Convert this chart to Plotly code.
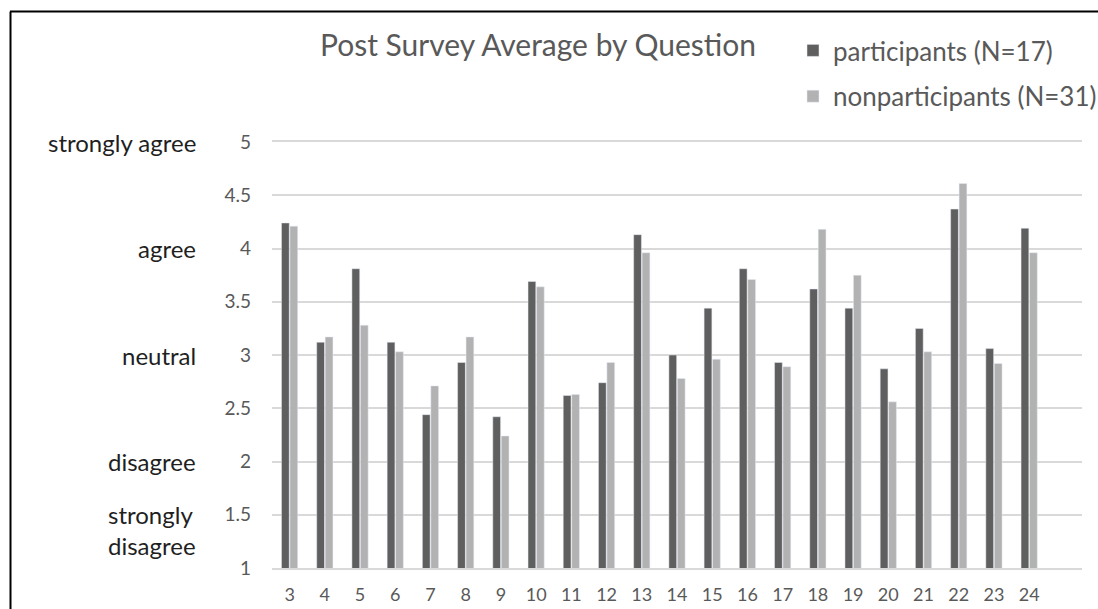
import plotly.graph_objects as go

# Survey question numbers shown along the x axis
questions = [str(q) for q in range(3, 25)]

# Average post-survey response per question (1 = strongly disagree, 5 = strongly agree)
participants = [4.24, 3.12, 3.81, 3.12, 2.44, 2.93, 2.42, 3.69, 2.62, 2.74, 4.13,
                3.00, 3.44, 3.81, 2.93, 3.62, 3.44, 2.87, 3.25, 4.37, 3.06, 4.19]
nonparticipants = [4.21, 3.17, 3.28, 3.03, 2.71, 3.17, 2.24, 3.64, 2.63, 2.93, 3.96,
                   2.78, 2.96, 3.71, 2.89, 4.18, 3.75, 2.56, 3.03, 4.61, 2.92, 3.96]

# Likert scale wording placed to the left of the numeric axis
scale_labels = ["strongly agree", "agree", "neutral", "disagree", "strongly<br>disagree"]
scale_positions = [5, 4, 3, 2, 1.36]

W, H = 1098, 609
L, R, T, B = 272, 16, 142, 41
PW, PH = W - L - R, H - T - B


def px_x(p):
    return (p - L) / PW


def px_y(p):
    return (H - B - p) / PH


FONT = "Lato"
GREY_TEXT = "#595959"
GRID = "#d9d9d9"

fig = go.Figure()
fig.add_trace(go.Bar(x=questions, y=participants, name="participants (N=17)",
                     marker_color="#5f5f5f", legendgroup="a"))
fig.add_trace(go.Bar(x=questions, y=nonparticipants, name="nonparticipants (N=31)",
                     marker_color="#b2b2b2", legendgroup="b"))

annotations = [
    dict(text=t, x=px_x(198), y=v, xref="paper", yref="y", xanchor="right",
         yanchor="middle", showarrow=False, align="left",
         font=dict(family=FONT, size=24, color="#1f1f1f"))
    for t, v in zip(scale_labels, scale_positions)
]

shapes = [
    dict(type="line", xref="paper", yref="paper", x0=px_x(10), x1=px_x(1098),
         y0=px_y(11.5), y1=px_y(11.5), line=dict(color="black", width=2)),
    dict(type="line", xref="paper", yref="paper", x0=px_x(10.5), x1=px_x(10.5),
         y0=px_y(11.5), y1=px_y(612), line=dict(color="black", width=2)),
]

fig.update_layout(
    width=W, height=H,
    margin=dict(l=L, r=R, t=T, b=B, autoexpand=False),
    paper_bgcolor="white", plot_bgcolor="white",
    barmode="group", bargap=0.52, bargroupgap=0.08,
    title=dict(text="Post Survey Average by Question", x=px_x(538), xanchor="center",
               xref="paper", y=1 - 45 / H, yanchor="middle",
               font=dict(family=FONT, size=30, color=GREY_TEXT)),
    legend=dict(x=px_x(793), y=px_y(27), xanchor="left", yanchor="top",
                font=dict(family=FONT, size=26, color=GREY_TEXT),
                traceorder="grouped", tracegroupgap=9, itemwidth=30,
                bgcolor="rgba(0,0,0,0)"),
    annotations=annotations,
    shapes=shapes,
    # the x axis line, mirrored to the top, doubles as the gridlines at 1 and 5
    xaxis=dict(type="category", range=[-0.5, 22.5], showgrid=False, zeroline=False,
               showline=True, mirror=True, linecolor=GRID, linewidth=1.5,
               ticks="", ticklabelstandoff=10,
               tickfont=dict(family=FONT, size=18, color=GREY_TEXT)),
    yaxis=dict(range=[1, 5], tickvals=[1, 1.5, 2, 2.5, 3, 3.5, 4, 4.5, 5],
               showgrid=True, gridcolor=GRID,
               gridwidth=1.5, zeroline=False, showline=False, ticks="",
               ticklabelstandoff=20,
               tickfont=dict(family=FONT, size=19, color=GREY_TEXT)),
    showlegend=True,
)

fig.write_html("out.html")
